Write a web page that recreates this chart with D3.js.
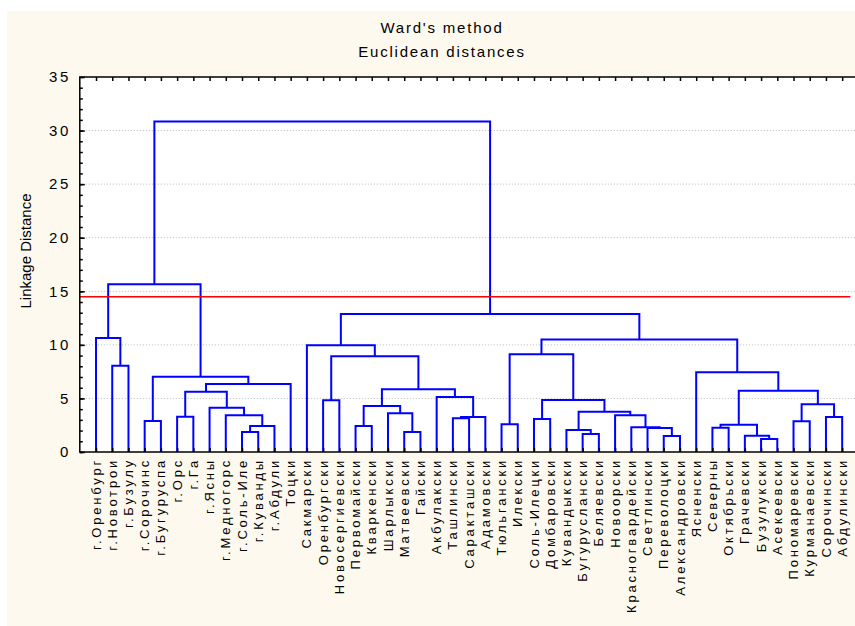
<!DOCTYPE html>
<html>
<head>
<meta charset="utf-8">
<script src="https://cdn.jsdelivr.net/npm/d3@7"></script>
<style>
  body { margin: 0; background: #ffffff; }
  text { font-family: Arial, "Liberation Sans", sans-serif; fill: #000; }
</style>
</head>
<body>
<svg id="chart" width="855" height="626"></svg>
<script>
// Leaf labels, left to right
const leafLabels = [
  "г.Оренбург", "г.Новотрои", "г.Бузулу", "г.Сорочинс", "г.Бугуруспа", "г.Орс", "г.Га",
  "г.Ясны", "г.Медногорс", "г.Соль-Иле", "г.Куванды", "г.Абдули", "Тоцки",
  "Сакмарски", "Оренбургски", "Новосергиевски", "Первомайски", "Кваркенски", "Шарлыкски",
  "Матвеевски", "Гайски", "Акбулакски", "Ташлински", "Саракташски", "Адамовски",
  "Тюльгански", "Илекски", "Соль-Илецки", "Домбаровски", "Кувандыкски", "Бугуруслански",
  "Беляевски", "Новоорски", "Красногвардейски", "Светлински", "Переволоцки", "Александровски",
  "Ясненски", "Северны", "Октябрьски", "Грачевски", "Бузулукски", "Асекеевски",
  "Пономаревски", "Курманаевски", "Сорочински", "Абдулински"
];

// Linkage rows: [left id, right id, linkage distance].
// Ids below leafLabels.length are leaves; id n + k refers to row k.
const merges = [
  [1, 2, 8.06], [0, 47, 10.64], [3, 4, 2.89], [5, 6, 3.30], [9, 10, 1.87],
  [51, 11, 2.43], [8, 52, 3.42], [7, 53, 4.14], [50, 54, 5.63], [55, 12, 6.35],
  [49, 56, 7.03], [48, 57, 15.65],
  [14, 15, 4.82], [16, 17, 2.43], [19, 20, 1.87], [18, 61, 3.61], [60, 62, 4.29],
  [22, 23, 3.15], [64, 24, 3.27], [21, 65, 5.13], [63, 66, 5.85], [59, 67, 8.93],
  [13, 68, 9.96],
  [25, 26, 2.58], [27, 28, 3.08], [30, 31, 1.68], [29, 72, 2.05], [35, 36, 1.49],
  [34, 74, 2.24], [33, 75, 2.32], [32, 76, 3.43], [73, 77, 3.76], [71, 78, 4.85],
  [70, 79, 9.12],
  [41, 42, 1.21], [40, 81, 1.52], [38, 39, 2.27], [83, 82, 2.55], [43, 44, 2.86],
  [45, 46, 3.27], [85, 86, 4.45], [84, 87, 5.72], [37, 88, 7.44], [80, 89, 10.50],
  [69, 90, 12.88], [58, 91, 30.85]
];

const yMajorTicks = [0, 5, 10, 15, 20, 25, 30, 35];
const yGridLines = [5, 10, 15, 20, 25, 30];
const cutHeight = 14.5;
const titleLines = ["Ward's method", "Euclidean distances"];
const yAxisTitle = "Linkage Distance";

const W = 855, H = 626;
const plot = { left: 79.8, right: 858.4, top: 77, bottom: 452 };
const n = leafLabels.length;

const svg = d3.select("#chart");

// page background
svg.append("rect").attr("x", 7).attr("y", 11).attr("width", W - 7).attr("height", H - 11)
  .attr("fill", "#fdf9ee");

const x = d3.scaleLinear().domain([0, n + 1]).range([plot.left, plot.right]);
const y = d3.scaleLinear().domain([0, 35]).range([plot.bottom, plot.top]);

// plot area
svg.append("rect")
  .attr("x", plot.left).attr("y", plot.top)
  .attr("width", plot.right - plot.left).attr("height", plot.bottom - plot.top)
  .attr("fill", "#ffffff");

// dotted grid
svg.append("g").selectAll("line").data(yGridLines).join("line")
  .attr("x1", plot.left).attr("x2", plot.right)
  .attr("y1", d => y(d)).attr("y2", d => y(d))
  .attr("stroke", "#b8b8b8").attr("stroke-width", 1)
  .attr("stroke-dasharray", "1,2");

// node positions: leaves at 1..n, each merge centred over its two children
const nodeX = leafLabels.map((_, i) => x(i + 1));
const nodeH = leafLabels.map(() => 0);
merges.forEach(([a, b, h]) => {
  nodeX.push((nodeX[a] + nodeX[b]) / 2);
  nodeH.push(h);
});

// dendrogram links
svg.append("g").selectAll("path").data(merges).join("path")
  .attr("d", ([a, b, h]) => {
    const path = d3.path();
    path.moveTo(nodeX[a], y(nodeH[a]));
    path.lineTo(nodeX[a], y(h));
    path.lineTo(nodeX[b], y(h));
    path.lineTo(nodeX[b], y(nodeH[b]));
    return path.toString();
  })
  .attr("fill", "none")
  .attr("stroke", "#0000ff")
  .attr("stroke-width", 2);

// cut line
svg.append("line")
  .attr("x1", x(0)).attr("x2", x(n + 0.5))
  .attr("y1", y(cutHeight)).attr("y2", y(cutHeight))
  .attr("stroke", "#ff0000").attr("stroke-width", 1.5);

// axes
const leafTicks = d3.range(1, n + 1);
const axisStyle = g => {
  g.select(".domain").remove();
  g.selectAll(".tick line").attr("stroke", "#000").attr("stroke-width", 1.5);
};

svg.append("g").attr("transform", `translate(0,${plot.bottom})`)
  .call(d3.axisBottom(x).tickValues(leafTicks).tickSize(-4).tickFormat(""))
  .call(axisStyle);
svg.append("g").attr("transform", `translate(0,${plot.top})`)
  .call(d3.axisTop(x).tickValues(leafTicks).tickSize(-4).tickFormat(""))
  .call(axisStyle);

// minor ticks every unit
svg.append("g").attr("transform", `translate(${plot.left},0)`)
  .call(d3.axisLeft(y).tickValues(d3.range(0, 36)).tickSize(-3).tickFormat(""))
  .call(axisStyle);

// major ticks with labels
const yAxis = svg.append("g").attr("transform", `translate(${plot.left},0)`)
  .call(d3.axisLeft(y).tickValues(yMajorTicks).tickSize(-5).tickPadding(9))
  .call(axisStyle);
yAxis.selectAll(".tick text")
  .attr("font-size", 15)
  .attr("font-family", "Arial, 'Liberation Sans', sans-serif")
  .attr("fill", "#222")
  .attr("letter-spacing", "2.5px");

// frame
svg.append("rect")
  .attr("x", plot.left).attr("y", plot.top)
  .attr("width", plot.right - plot.left).attr("height", plot.bottom - plot.top)
  .attr("fill", "none").attr("stroke", "#000").attr("stroke-width", 1.5);

// leaf labels
svg.append("g").selectAll("text").data(leafLabels).join("text")
  .attr("transform", (d, i) => `translate(${x(i + 1)},${plot.bottom + 6}) rotate(-90)`)
  .attr("text-anchor", "end")
  .attr("dy", "0.35em")
  .attr("font-size", 13)
  .attr("letter-spacing", "2.8px")
  .text(d => d);

// titles
svg.append("g").selectAll("text").data(titleLines).join("text")
  .attr("x", 442).attr("y", (d, i) => 33 + i * 24)
  .attr("text-anchor", "middle")
  .attr("font-size", 15)
  .attr("letter-spacing", "1.8px")
  .text(d => d);

svg.append("text")
  .attr("transform", `translate(31,251) rotate(-90)`)
  .attr("text-anchor", "middle")
  .attr("font-size", 15)
  .text(yAxisTitle);
</script>
</body>
</html>
